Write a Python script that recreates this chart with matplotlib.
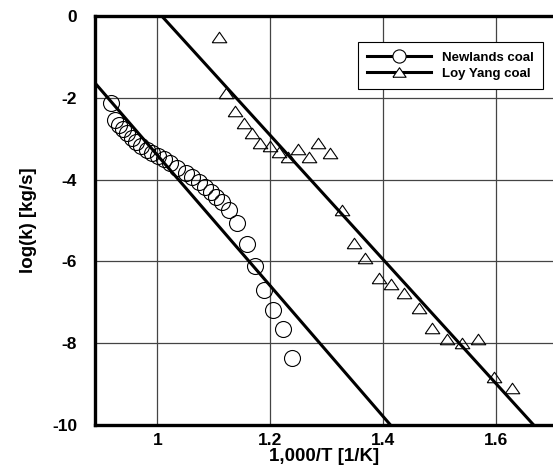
import matplotlib
matplotlib.use("Agg")
import matplotlib.pyplot as plt
from matplotlib.lines import Line2D
import numpy as np

plt.rcParams['font.family'] = ['Liberation Sans', 'DejaVu Sans']

# Newlands coal data (1000/T, log k)
newlands_x = [0.918, 0.926, 0.933, 0.940, 0.947, 0.955, 0.963, 0.971, 0.981, 0.991,
              1.001, 1.011, 1.023, 1.035, 1.050, 1.061, 1.073, 1.085, 1.095, 1.104,
              1.115, 1.126, 1.141, 1.158, 1.172, 1.188, 1.205, 1.222, 1.239]
newlands_y = [-2.12, -2.54, -2.67, -2.77, -2.87, -2.97, -3.07, -3.18, -3.28, -3.36,
              -3.42, -3.50, -3.59, -3.72, -3.85, -3.94, -4.05, -4.17, -4.30, -4.42,
              -4.54, -4.74, -5.07, -5.57, -6.11, -6.70, -7.19, -7.66, -8.37]

# Loy Yang coal data
loy_x = [1.110, 1.122, 1.138, 1.153, 1.168, 1.182, 1.199, 1.215, 1.231, 1.249,
         1.268, 1.285, 1.306, 1.327, 1.348, 1.368, 1.392, 1.414, 1.437, 1.463,
         1.486, 1.513, 1.539, 1.568, 1.596, 1.627]
loy_y = [-0.52, -1.87, -2.32, -2.61, -2.87, -3.10, -3.18, -3.32, -3.44, -3.24,
         -3.44, -3.11, -3.36, -4.74, -5.54, -5.92, -6.41, -6.55, -6.78, -7.15,
         -7.64, -7.90, -8.00, -7.90, -8.82, -9.10]

# Fit lines: intercept, slope
newlands_fit = (12.6, -16.0)
loy_fit = (15.32, -15.2)

xticks = [1.0, 1.2, 1.4, 1.6]
xtick_labels = ["1", "1.2", "1.4", "1.6"]
yticks = [0, -2, -4, -6, -8, -10]
ytick_labels = ["0", "-2", "-4", "-6", "-8", "-10"]

fig = plt.figure(figsize=(5.53, 4.72), dpi=100)
ax = fig.add_axes([0.172, 0.0996, 0.828, 0.8664])
xmin, xmax = 0.89, 1.70
ax.set_xlim(xmin, xmax)
ax.set_ylim(-10, 0)

ax.grid(True, color='#444444', linewidth=0.9)
ax.set_axisbelow(True)

tri = [(-1, -0.72), (1, -0.72), (0, 0.72), (-1, -0.72)]

ax.plot(newlands_x, newlands_y, linestyle='none', marker='o', markersize=11.5,
        markerfacecolor='none', markeredgecolor='black', markeredgewidth=0.8, zorder=3)
ax.plot(loy_x, loy_y, linestyle='none', marker=tri, markersize=10.5,
        markerfacecolor='none', markeredgecolor='black', markeredgewidth=0.8, zorder=3)

xs = np.array([xmin, xmax])
ax.plot(xs, newlands_fit[0] + newlands_fit[1] * xs, color='black', linewidth=2.2, zorder=4)
ax.plot(xs, loy_fit[0] + loy_fit[1] * xs, color='black', linewidth=2.2, zorder=4)

ax.set_xticks(xticks)
ax.set_xticklabels(xtick_labels)
ax.set_yticks(yticks)
ax.set_yticklabels(ytick_labels)
ax.tick_params(length=0, labelsize=12.5)
ax.tick_params(axis='x', pad=6)
ax.tick_params(axis='y', pad=13)
for lab in ax.get_xticklabels() + ax.get_yticklabels():
    lab.set_fontweight('bold')

for side in ['left', 'bottom', 'top']:
    ax.spines[side].set_linewidth(2.4)
ax.spines['right'].set_visible(False)

ax.set_xlabel('1,000/T [1/K]', fontsize=13.5, fontweight='bold', labelpad=0)
ax.set_ylabel('log(k) [kg/s]', fontsize=13.5, fontweight='bold', labelpad=11)

handles = [
    Line2D([], [], color='black', linewidth=2.2, marker='o', markersize=9.5,
           markerfacecolor='white', markeredgecolor='black', markeredgewidth=0.8),
    Line2D([], [], color='black', linewidth=2.2, marker=tri, markersize=9.5,
           markerfacecolor='white', markeredgecolor='black', markeredgewidth=0.8),
]
leg = ax.legend(handles, ['Newlands coal', 'Loy Yang coal'],
                loc='upper right', bbox_to_anchor=(0.978, 0.936),
                prop={'weight': 'bold', 'size': 9.5}, frameon=True, fancybox=False,
                edgecolor='black', framealpha=1, handlelength=4.8, borderpad=0.7,
                labelspacing=0.3, handletextpad=0.85, borderaxespad=0.0)
leg.get_frame().set_linewidth(0.8)

fig.savefig('out.png', dpi=100)
